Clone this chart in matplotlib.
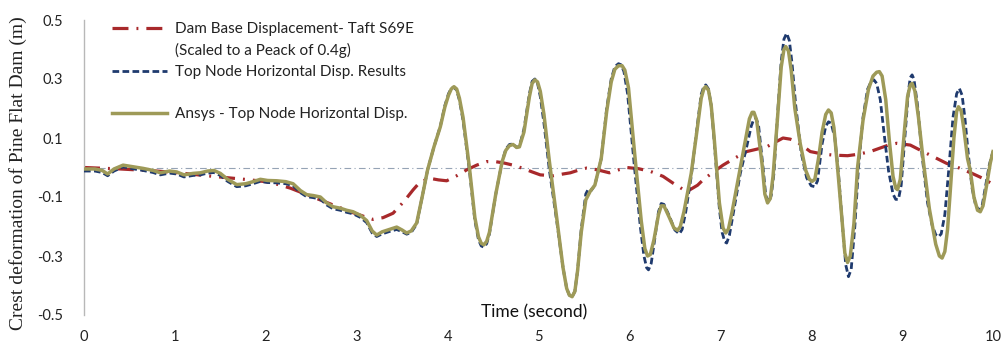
import matplotlib
matplotlib.use("Agg")
import matplotlib.pyplot as plt
from matplotlib.lines import Line2D

# ---------------- data: (time s, displacement m) ----------------
ansys_pts = [
    (0.00, -0.005), (0.12, -0.005), (0.20, -0.010), (0.26, -0.022), (0.33, -0.005), (0.43, 0.008),
    (0.53, 0.003), (0.65, -0.003), (0.76, -0.010), (0.84, -0.018), (0.94, -0.012), (1.02, -0.015),
    (1.10, -0.025), (1.20, -0.020), (1.28, -0.018), (1.36, -0.012), (1.43, -0.010), (1.50, -0.020),
    (1.58, -0.040), (1.68, -0.058), (1.78, -0.055), (1.86, -0.048), (1.94, -0.040), (2.02, -0.044),
    (2.12, -0.045), (2.22, -0.048), (2.30, -0.055), (2.38, -0.078), (2.45, -0.092), (2.52, -0.095),
    (2.60, -0.100), (2.67, -0.120), (2.74, -0.133), (2.82, -0.138), (2.89, -0.145), (2.96, -0.150),
    (3.04, -0.162), (3.11, -0.180), (3.17, -0.215), (3.22, -0.229), (3.28, -0.218), (3.36, -0.210),
    (3.44, -0.202), (3.50, -0.212), (3.55, -0.222), (3.60, -0.215), (3.66, -0.188), (3.72, -0.100),
    (3.78, -0.008), (3.85, 0.070), (3.92, 0.138), (3.97, 0.205), (4.01, 0.245), (4.04, 0.266),
    (4.07, 0.274), (4.10, 0.266), (4.13, 0.235), (4.17, 0.170), (4.24, 0.000), (4.30, -0.170),
    (4.34, -0.235), (4.37, -0.257), (4.40, -0.262), (4.43, -0.250), (4.46, -0.220), (4.53, -0.090),
    (4.60, 0.020), (4.64, 0.058), (4.68, 0.074), (4.72, 0.078), (4.76, 0.068), (4.79, 0.070),
    (4.84, 0.120), (4.90, 0.240), (4.93, 0.285), (4.96, 0.297), (4.99, 0.290), (5.02, 0.258),
    (5.06, 0.180), (5.12, 0.020), (5.20, -0.170), (5.27, -0.340), (5.31, -0.410), (5.34, -0.433),
    (5.37, -0.438), (5.40, -0.420), (5.43, -0.350), (5.47, -0.220), (5.52, -0.110), (5.57, -0.080),
    (5.62, -0.060), (5.69, 0.030), (5.75, 0.190), (5.80, 0.290), (5.84, 0.333), (5.88, 0.345),
    (5.92, 0.345), (5.95, 0.330), (5.99, 0.270), (6.06, 0.040), (6.13, -0.180), (6.17, -0.275),
    (6.20, -0.300), (6.23, -0.295), (6.27, -0.245), (6.32, -0.160), (6.35, -0.130), (6.38, -0.130),
    (6.44, -0.170), (6.49, -0.205), (6.53, -0.213), (6.56, -0.200), (6.60, -0.150), (6.68, -0.020),
    (6.75, 0.140), (6.79, 0.235), (6.82, 0.268), (6.84, 0.274), (6.87, 0.262), (6.90, 0.210),
    (6.93, 0.110), (6.99, -0.120), (7.03, -0.205), (7.06, -0.222), (7.09, -0.208), (7.13, -0.150),
    (7.22, 0.000), (7.28, 0.100), (7.32, 0.165), (7.35, 0.187), (7.37, 0.187), (7.40, 0.160),
    (7.46, 0.010), (7.49, -0.090), (7.52, -0.120), (7.55, -0.105), (7.58, -0.030), (7.63, 0.170),
    (7.67, 0.340), (7.70, 0.400), (7.72, 0.410), (7.75, 0.395), (7.78, 0.330), (7.82, 0.200),
    (7.88, 0.080), (7.94, -0.010), (7.98, -0.040), (8.01, -0.047), (8.04, -0.040), (8.08, 0.030),
    (8.12, 0.120), (8.16, 0.180), (8.19, 0.195), (8.22, 0.185), (8.25, 0.135), (8.29, 0.000),
    (8.34, -0.180), (8.37, -0.290), (8.40, -0.322), (8.43, -0.300), (8.47, -0.190), (8.51, 0.000),
    (8.57, 0.160), (8.63, 0.265), (8.68, 0.310), (8.72, 0.323), (8.75, 0.325), (8.78, 0.310),
    (8.82, 0.230), (8.86, 0.090), (8.90, -0.030), (8.93, -0.070), (8.95, -0.075), (8.98, -0.040),
    (9.03, 0.140), (9.06, 0.240), (9.09, 0.280), (9.11, 0.285), (9.14, 0.260), (9.18, 0.170),
    (9.23, 0.030), (9.30, -0.140), (9.37, -0.260), (9.41, -0.300), (9.44, -0.307), (9.47, -0.285),
    (9.50, -0.210), (9.53, -0.080), (9.57, 0.100), (9.60, 0.190), (9.62, 0.206), (9.65, 0.192),
    (9.68, 0.130), (9.72, 0.030), (9.75, -0.010), (9.79, -0.100), (9.83, -0.145), (9.86, -0.150),
    (9.89, -0.130), (9.93, -0.060), (9.97, 0.015), (10.00, 0.054),
]

results_pts = [
    (0.00, -0.012), (0.12, -0.012), (0.20, -0.017), (0.26, -0.028), (0.33, -0.012), (0.43, 0.002),
    (0.53, -0.004), (0.65, -0.010), (0.76, -0.017), (0.84, -0.025), (0.94, -0.019), (1.02, -0.022),
    (1.10, -0.032), (1.20, -0.027), (1.28, -0.025), (1.36, -0.019), (1.43, -0.017), (1.50, -0.027),
    (1.58, -0.047), (1.68, -0.065), (1.78, -0.062), (1.86, -0.055), (1.94, -0.047), (2.02, -0.051),
    (2.12, -0.052), (2.22, -0.055), (2.30, -0.062), (2.38, -0.085), (2.45, -0.099), (2.52, -0.102),
    (2.60, -0.107), (2.67, -0.127), (2.74, -0.140), (2.82, -0.145), (2.89, -0.152), (2.96, -0.157),
    (3.04, -0.169), (3.11, -0.187), (3.17, -0.222), (3.22, -0.234), (3.28, -0.225), (3.36, -0.217),
    (3.44, -0.210), (3.50, -0.218), (3.55, -0.226), (3.60, -0.220), (3.66, -0.192), (3.72, -0.100),
    (3.78, -0.008), (3.85, 0.070), (3.92, 0.140), (3.97, 0.210), (4.01, 0.250), (4.04, 0.268),
    (4.07, 0.272), (4.10, 0.262), (4.13, 0.228), (4.17, 0.160), (4.24, -0.010), (4.30, -0.180),
    (4.34, -0.245), (4.37, -0.266), (4.40, -0.270), (4.43, -0.258), (4.46, -0.225), (4.53, -0.090),
    (4.60, 0.020), (4.64, 0.062), (4.68, 0.078), (4.72, 0.080), (4.76, 0.068), (4.79, 0.072),
    (4.84, 0.130), (4.90, 0.250), (4.93, 0.292), (4.96, 0.300), (4.99, 0.285), (5.02, 0.240),
    (5.06, 0.150), (5.12, -0.010), (5.20, -0.180), (5.27, -0.340), (5.31, -0.410), (5.34, -0.433),
    (5.37, -0.438), (5.40, -0.420), (5.43, -0.350), (5.47, -0.210), (5.52, -0.090), (5.55, -0.072),
    (5.58, -0.078), (5.62, -0.060), (5.69, 0.030), (5.75, 0.200), (5.80, 0.300), (5.84, 0.342),
    (5.88, 0.352), (5.91, 0.348), (5.94, 0.325), (5.98, 0.250), (6.05, 0.020), (6.12, -0.200),
    (6.16, -0.300), (6.19, -0.340), (6.21, -0.347), (6.24, -0.325), (6.28, -0.240), (6.32, -0.150),
    (6.35, -0.122), (6.38, -0.125), (6.44, -0.165), (6.50, -0.212), (6.55, -0.225), (6.58, -0.210),
    (6.62, -0.150), (6.68, -0.030), (6.75, 0.150), (6.79, 0.248), (6.82, 0.276), (6.84, 0.280),
    (6.87, 0.266), (6.90, 0.210), (6.93, 0.100), (6.99, -0.140), (7.02, -0.220), (7.05, -0.252),
    (7.07, -0.256), (7.10, -0.230), (7.14, -0.160), (7.22, -0.020), (7.29, 0.070), (7.34, 0.140),
    (7.37, 0.165), (7.39, 0.168), (7.42, 0.145), (7.47, 0.000), (7.50, -0.095), (7.53, -0.118),
    (7.56, -0.095), (7.59, -0.020), (7.63, 0.180), (7.67, 0.360), (7.70, 0.435), (7.73, 0.455),
    (7.76, 0.430), (7.79, 0.350), (7.83, 0.210), (7.89, 0.050), (7.95, -0.035), (8.00, -0.062),
    (8.04, -0.065), (8.07, -0.045), (8.12, 0.080), (8.16, 0.140), (8.19, 0.155), (8.22, 0.150),
    (8.26, 0.100), (8.30, -0.020), (8.35, -0.220), (8.38, -0.330), (8.41, -0.370), (8.44, -0.345),
    (8.48, -0.200), (8.52, 0.000), (8.57, 0.170), (8.62, 0.265), (8.66, 0.292), (8.69, 0.297),
    (8.72, 0.285), (8.76, 0.230), (8.80, 0.120), (8.85, -0.010), (8.90, -0.090), (8.93, -0.108),
    (8.96, -0.108), (8.99, -0.060), (9.04, 0.140), (9.07, 0.260), (9.09, 0.305), (9.11, 0.314),
    (9.13, 0.300), (9.17, 0.210), (9.22, 0.040), (9.28, -0.120), (9.33, -0.195), (9.37, -0.228),
    (9.40, -0.235), (9.43, -0.225), (9.47, -0.160), (9.51, -0.020), (9.56, 0.170), (9.60, 0.250),
    (9.63, 0.268), (9.66, 0.245), (9.69, 0.170), (9.73, 0.040), (9.77, -0.070), (9.81, -0.130),
    (9.85, -0.145), (9.88, -0.130), (9.92, -0.060), (9.96, 0.010), (10.00, 0.054),
]

base_pts = [
    (0.00, 0.000), (0.40, -0.005), (0.80, -0.012), (1.10, -0.020), (1.42, -0.030), (1.83, -0.042),
    (2.05, -0.050), (2.27, -0.070), (2.60, -0.110), (2.93, -0.150), (3.10, -0.168), (3.18, -0.176),
    (3.29, -0.170), (3.40, -0.155), (3.52, -0.115), (3.62, -0.076), (3.70, -0.048), (3.81, -0.037),
    (3.90, -0.042), (3.99, -0.045), (4.10, -0.028), (4.21, -0.008), (4.32, 0.008), (4.43, 0.020),
    (4.52, 0.020), (4.61, 0.016), (4.72, 0.008), (4.83, -0.003), (4.93, -0.015), (5.02, -0.025),
    (5.16, -0.028), (5.27, -0.022), (5.35, -0.018), (5.45, -0.008), (5.53, -0.002), (5.65, -0.008),
    (5.78, -0.018), (5.88, -0.008), (5.97, 0.000), (6.10, -0.004), (6.23, -0.013), (6.37, -0.030),
    (6.48, -0.053), (6.63, -0.082), (6.75, -0.060), (6.81, -0.042), (6.92, -0.016), (7.03, 0.008),
    (7.16, 0.032), (7.29, 0.054), (7.40, 0.062), (7.51, 0.070), (7.60, 0.085), (7.69, 0.100),
    (7.77, 0.096), (7.84, 0.088), (7.92, 0.070), (7.99, 0.054), (8.12, 0.046), (8.24, 0.042),
    (8.40, 0.040), (8.52, 0.045), (8.65, 0.054), (8.75, 0.065), (8.85, 0.076), (8.94, 0.082),
    (9.09, 0.076), (9.23, 0.054), (9.36, 0.034), (9.49, 0.014), (9.64, -0.003), (9.77, -0.020),
    (9.89, -0.037), (10.00, -0.057),
]

y_ticks = [-0.5, -0.3, -0.1, 0.1, 0.3, 0.5]
x_ticks = [0, 1, 2, 3, 4, 5, 6, 7, 8, 9, 10]

label_base_1 = "Dam Base Displacement- Taft S69E"
label_base_2 = "(Scaled to a Peack of 0.4g)"
label_results = "Top Node Horizontal Disp. Results"
label_ansys = "Ansys - Top Node Horizontal Disp."

# ---------------- styling ----------------
C_RED = "#A8292B"
C_BLUE = "#1F3A6E"
C_OLIVE = "#9E9A58"
SANS = ["Lato", "DejaVu Sans"]

fig = plt.figure(figsize=(10.04, 3.46), dpi=100)
ax = fig.add_axes([84 / 1004, 31 / 346, 909 / 1004, 295 / 346])

ax.axhline(0, color="#95a3b5", lw=0.8, linestyle=(0, (6, 3, 1, 3)), zorder=1)

bt, bv = zip(*base_pts)
rt, rv = zip(*results_pts)
at, av = zip(*ansys_pts)

base_line, = ax.plot(bt, bv, color=C_RED, lw=2.3,
                     linestyle=(0, (5, 2.5, 0.6, 2.5)), zorder=2)
res_line, = ax.plot(rt, rv, color=C_BLUE, lw=2.0,
                    linestyle=(0, (2.4, 1.2)), zorder=3)
ans_line, = ax.plot(at, av, color=C_OLIVE, lw=2.5, zorder=4, solid_joinstyle="round")

ax.set_xlim(0, 10)
ax.set_ylim(-0.5, 0.5)
ax.set_xticks(x_ticks)
ax.set_xticklabels([str(x) for x in x_ticks], family=SANS, fontsize=10.5, color="#222222")
ax.set_yticks(y_ticks)
ax.set_yticklabels([f"{y:.1f}" for y in y_ticks], family=SANS, fontsize=10.5, color="#222222")
ax.tick_params(axis="both", length=0)
ax.tick_params(axis="y", pad=15)
ax.tick_params(axis="x", pad=10.5)

for s in ["top", "right", "bottom"]:
    ax.spines[s].set_visible(False)
ax.spines["left"].set_color("#b8b8b8")
ax.spines["left"].set_linewidth(1.0)

ax.text(0.495, 0.009, "Time (second)", transform=ax.transAxes, ha="center", va="center",
        family=SANS, fontsize=12.5, color="#111111")

fig.text(18 / 1004, 0.5, "Crest deformation of Pine Flat Dam (m)", rotation=90,
         ha="center", va="center", family="Liberation Serif", fontsize=14, color="#222222")

blank = Line2D([], [], color="none")
handles = [base_line, blank, res_line, blank, ans_line]
labels = [label_base_1, label_base_2, label_results, "", label_ansys]
leg = ax.legend(handles, labels, loc="upper left", bbox_to_anchor=(0.031, 0.992),
                frameon=False, prop={"family": SANS, "size": 11}, handlelength=3.6,
                handletextpad=0.5, labelspacing=0.45, borderpad=0, borderaxespad=0)
for txt in leg.get_texts():
    txt.set_color("#222222")

fig.savefig("out.png", dpi=100)
